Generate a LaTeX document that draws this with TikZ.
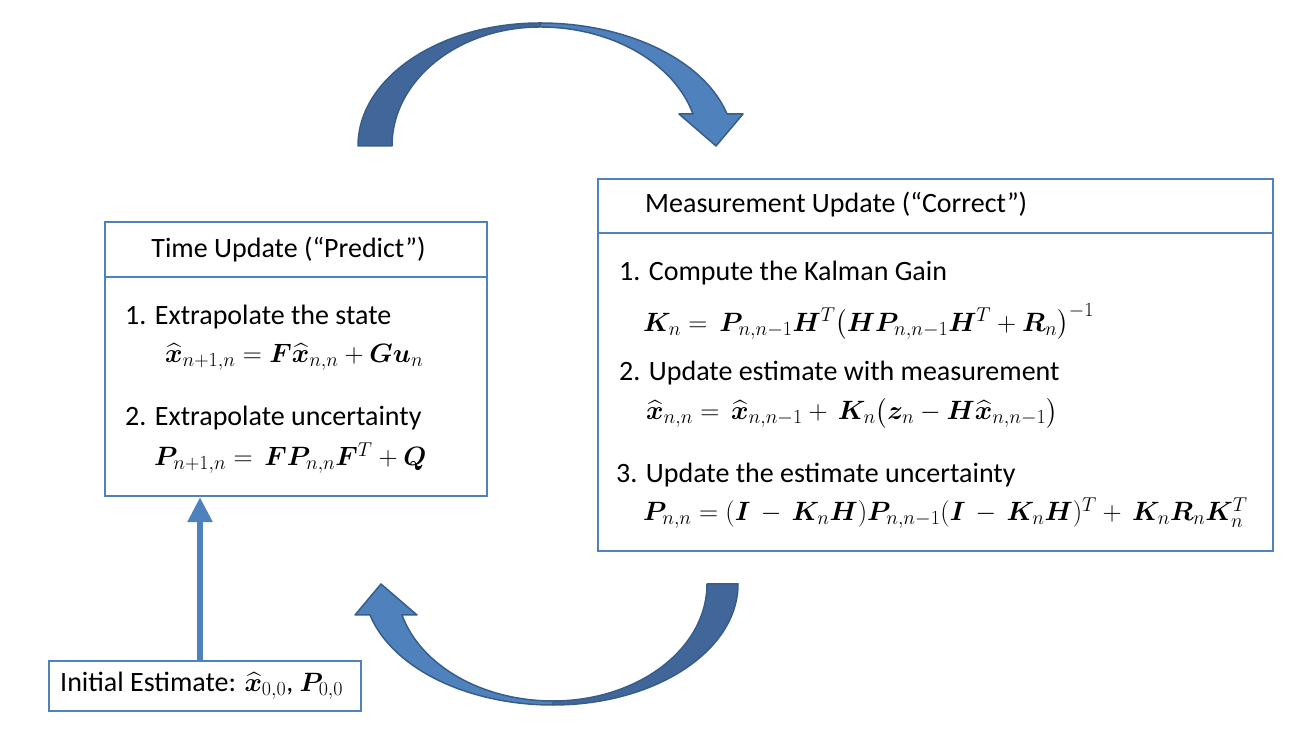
\RequirePackage{fix-cm}
\documentclass[tikz,border=0pt]{standalone}
\usepackage{fontspec}
\setmainfont{Carlito}
\usepackage{amsmath}
\usepackage{bm}
\usetikzlibrary{arrows.meta}
\DeclareMathSizes{26.5}{26.5}{20}{15}
\DeclareMathSizes{28}{26.5}{20}{15}
\definecolor{boxblue}{RGB}{79,129,189}
\definecolor{arrlight}{RGB}{79,129,189}
\definecolor{arrdark}{RGB}{65,103,154}
\definecolor{arrline}{RGB}{56,93,138}
\newcommand{\xh}{\widehat{\bm{x}}}
\begin{document}
\begin{tikzpicture}[x=1pt,y=1pt,
  frame/.style={draw=boxblue,line width=2.5pt,rectangle,inner sep=0pt},
  txt/.style={inner sep=0pt,anchor=west,font=\fontsize{28}{32}\selectfont},
  ctxt/.style={inner sep=0pt,font=\fontsize{28}{32}\selectfont},
  mtxt/.style={inner sep=0pt,anchor=west,font=\fontsize{26.5}{30}\selectfont},
  bandlight/.style={fill=arrlight,draw=arrline,line width=1.5pt,line join=round},
  banddark/.style={fill=arrdark,draw=arrline,line width=1.5pt,line join=round},
  uparrow/.style={draw=boxblue,line width=6pt,-{Triangle[length=25pt,width=24pt]}}]
\useasboundingbox (0,0) rectangle (1315,743);
% Time update box
\node[frame,minimum width=382pt,minimum height=55pt] (tuHead) at (296,493.5) {};
\node[frame,minimum width=382pt,minimum height=219pt] (tuBody) at (296,356.5) {};
\node[ctxt] (tuTitle) at (288.5,493) {Time Update (“Predict”)};
\node[txt] (tu1) at (125,426) {1. Extrapolate the state};
\node[mtxt] (tu1f) at (165,386) {$\xh_{n+1,n} = \bm{F}\xh_{n,n} + \bm{G}\bm{u}_n$};
\node[txt] (tu2) at (125,325) {2. Extrapolate uncertainty};
\node[mtxt] (tu2f) at (154,285) {$\bm{P}_{n+1,n} = \,\bm{F}\bm{P}_{n,n}\bm{F}^T + \bm{Q}$};
% Measurement update box
\node[frame,minimum width=675pt,minimum height=54pt] (muHead) at (935.5,537) {};
\node[frame,minimum width=675pt,minimum height=318pt] (muBody) at (935.5,351) {};
\node[txt] (muTitle) at (645,538) {Measurement Update (“Correct”)};
\node[txt] (mu1) at (619,470) {1. Compute the Kalman Gain};
\node[mtxt] (mu1f) at (643,421) {$\bm{K}_n = \,\bm{P}_{n,n-1}\bm{H}^T\bigl(\bm{H}\bm{P}_{n,n-1}\bm{H}^T + \bm{R}_n\bigr)^{-1}$};
\node[txt] (mu2) at (619,370) {2. Update estimate with measurement};
\node[mtxt] (mu2f) at (646,330) {$\xh_{n,n} = \,\xh_{n,n-1} + \,\bm{K}_n\bigl(\bm{z}_n - \bm{H}\xh_{n,n-1}\bigr)$};
\node[txt] (mu3) at (616,268) {3. Update the estimate uncertainty};
\node[mtxt] (mu3f) at (643,230) {$\bm{P}_{n,n} = (\bm{I}\,-\,\bm{K}_n\bm{H})\bm{P}_{n,n-1}(\bm{I}\,-\,\bm{K}_n\bm{H})^T +\,\bm{K}_n\bm{R}_n\bm{K}_n^T$};
% Initial estimate
\node[frame,minimum width=312pt,minimum height=50pt] (init) at (205,57) {};
\node[txt] (initTxt) at (60,57) {Initial Estimate: $\xh_{0,0}$, $\bm{P}_{0,0}$};
% vertical arrow
\coordinate (ax) at (200,0);
\draw[uparrow] (init.north -| ax) -- (tuBody.south -| ax);
% top curved arrow (center 540,597)
\path[banddark] (358,597) arc[start angle=180,end angle=90,x radius=182pt,y radius=123pt]
  -- (540,716) arc[start angle=90,end angle=180,x radius=148pt,y radius=119pt] -- cycle;
\path[bandlight] (540,720) arc[start angle=90,end angle=15.08,x radius=193.7pt,y radius=123pt]
  -- (743,629) -- (716,597) -- (679,629) -- (693,629)
  arc[start angle=15.6,end angle=90,x radius=158.8pt,y radius=119pt] -- cycle;
% bottom curved arrow (center 553,159)
\path[banddark] (738,159) arc[start angle=0,end angle=-90,x radius=185pt,y radius=121pt]
  -- (553,42) arc[start angle=-90,end angle=0,x radius=154pt,y radius=117pt] -- cycle;
\path[bandlight] (553,38) arc[start angle=270,end angle=194.84,x radius=189.3pt,y radius=121pt]
  -- (355,128) -- (381,159) -- (417,128) -- (402,128)
  arc[start angle=195.36,end angle=270,x radius=156.6pt,y radius=117pt] -- cycle;
\end{tikzpicture}
\end{document}
